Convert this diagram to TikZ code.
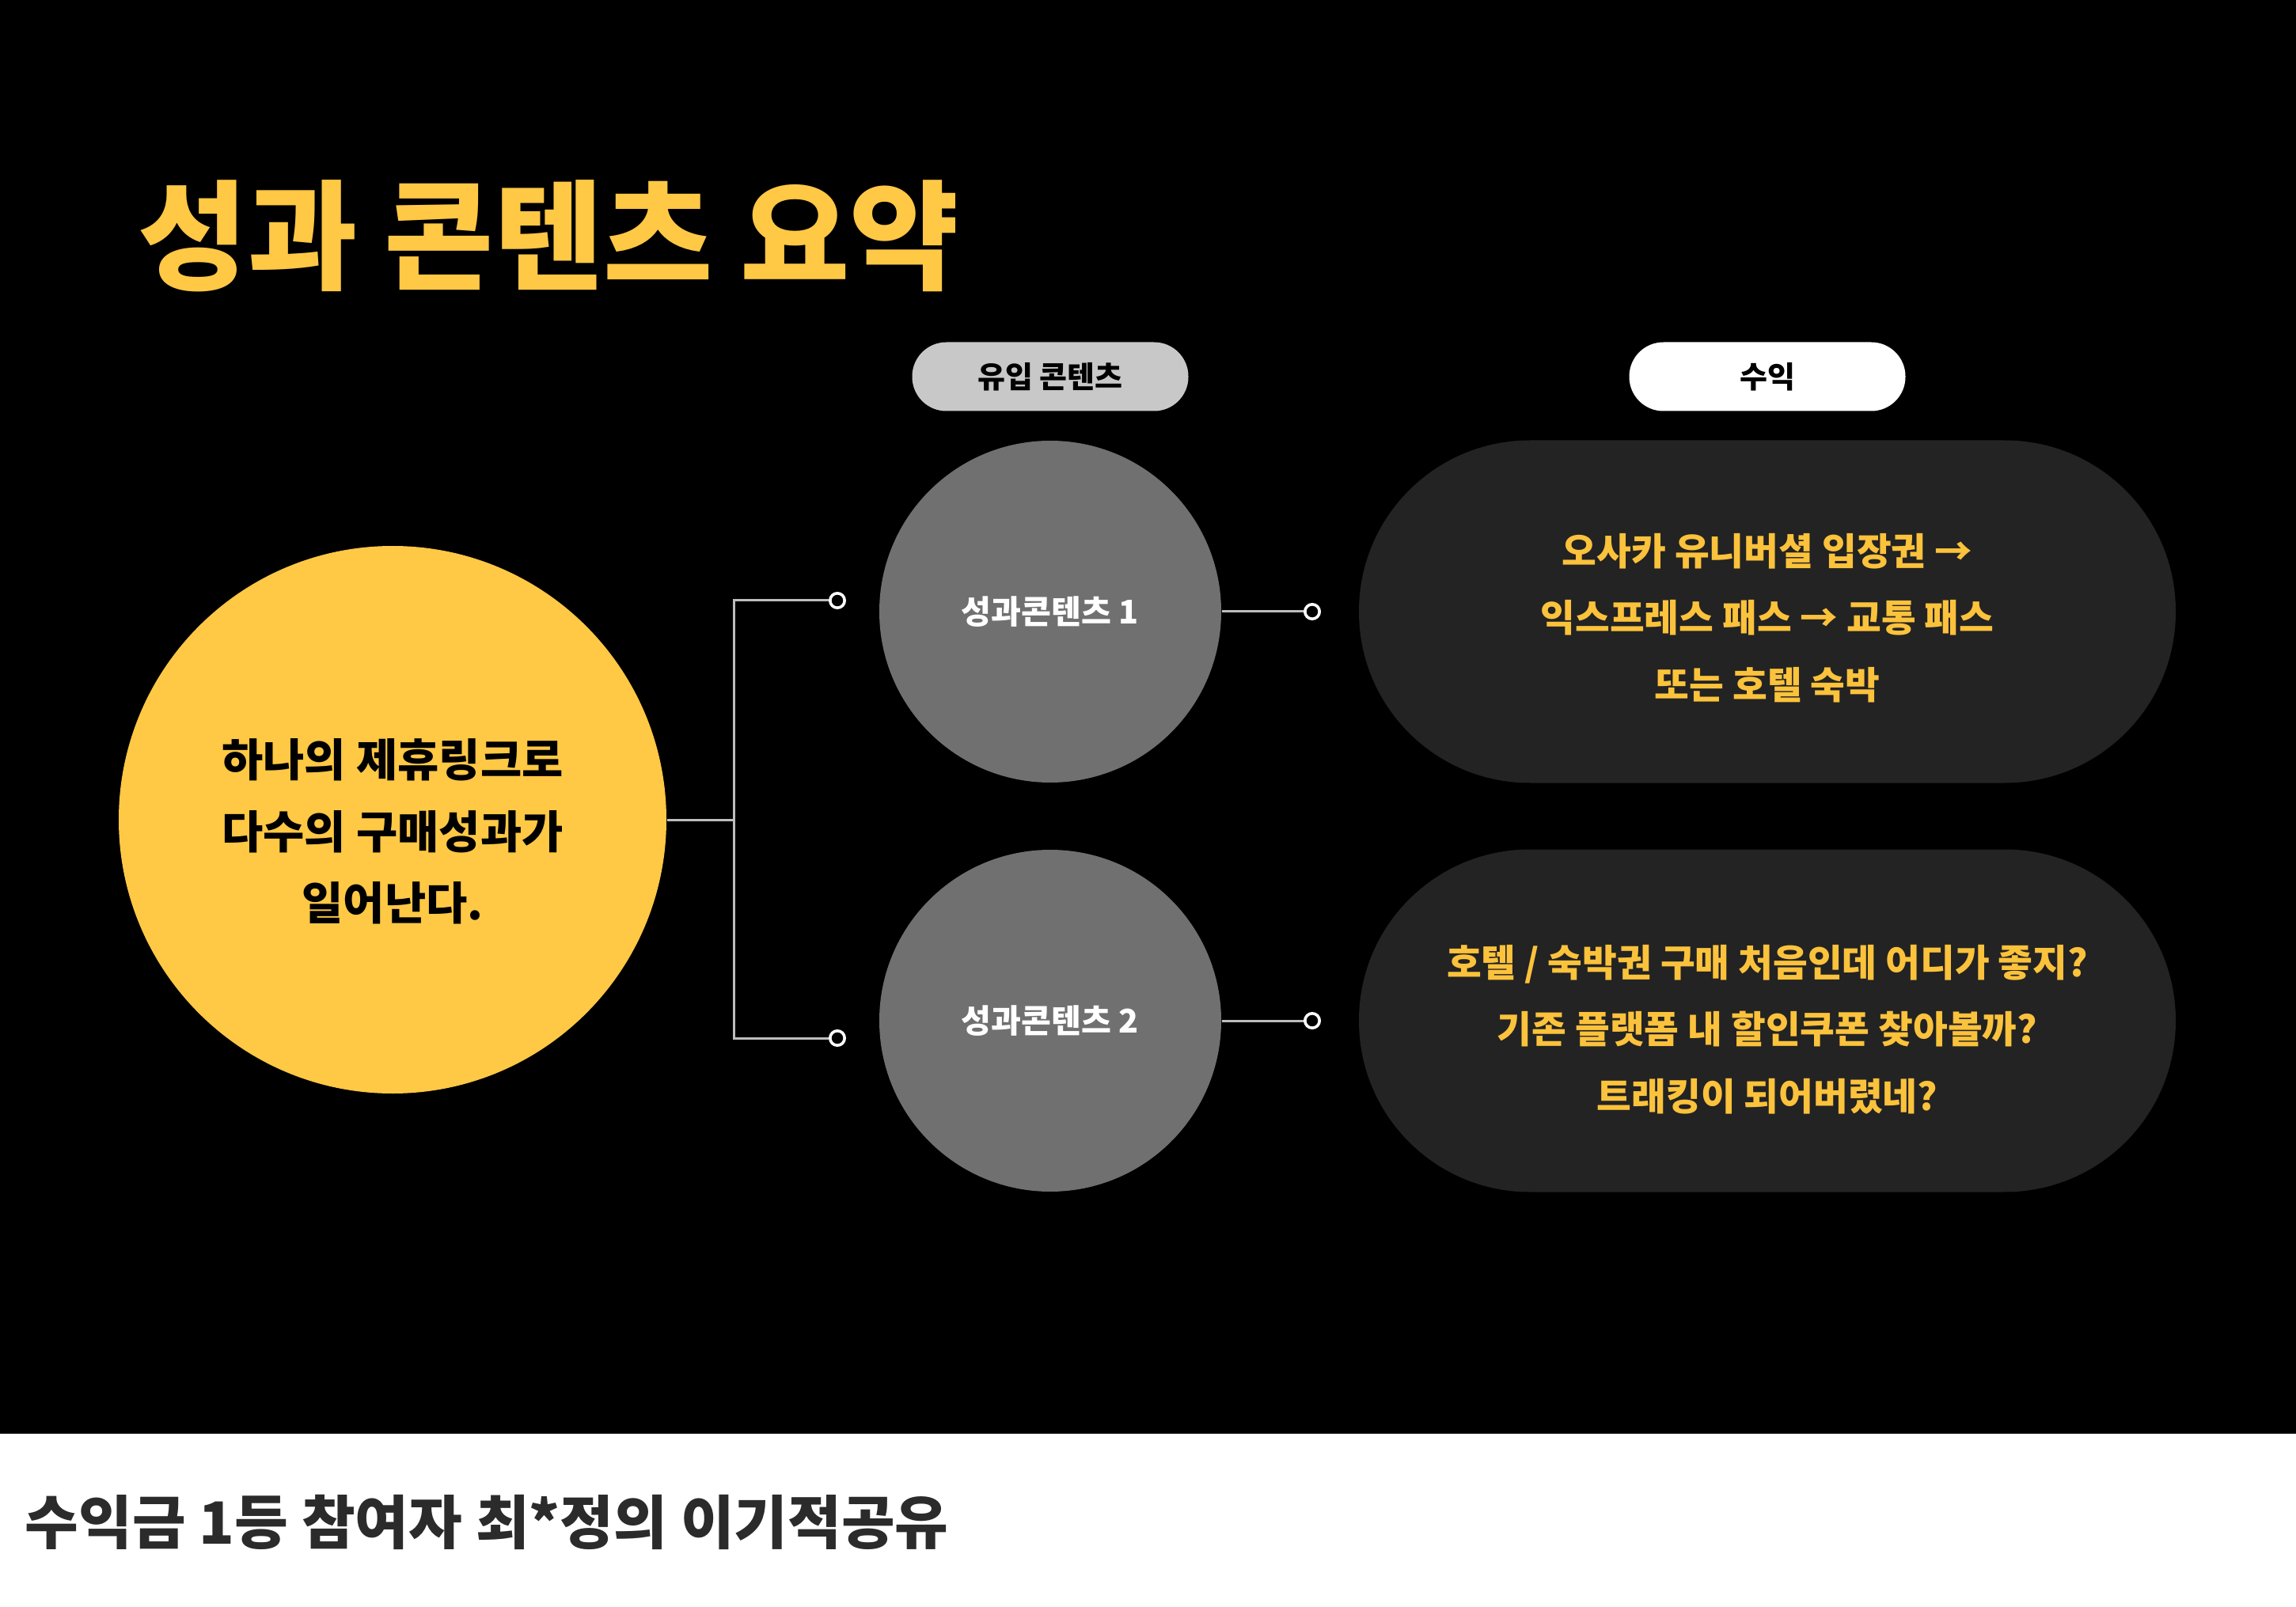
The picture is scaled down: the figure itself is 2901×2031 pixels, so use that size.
\documentclass[tikz,border=0pt]{standalone}
\usepackage{fontspec}
\setmainfont{Noto Sans CJK KR}
\usetikzlibrary{positioning}

\definecolor{hubyellow}{HTML}{FFC845}
\definecolor{textyellow}{HTML}{FBC23C}
\definecolor{stepgray}{HTML}{707070}
\definecolor{pilldark}{HTML}{232323}
\definecolor{taggray}{HTML}{C8C8C8}
\definecolor{wiregray}{HTML}{BDBDBD}
\definecolor{captiongray}{HTML}{2B2B2B}

\begin{document}
\begin{tikzpicture}[x=0.25pt, y=-0.25pt, font=\bfseries,
  hubnode/.style={circle, fill=hubyellow, minimum size=173pt, inner sep=0pt},
  hubtext/.style={align=center, inner sep=0pt, font=\bfseries\fontsize{14.2}{22.7}\selectfont},
  stepnode/.style={circle, fill=stepgray, minimum size=108pt, inner sep=0pt, text=white,
    font=\bfseries\fontsize{10.3}{12}\selectfont},
  gainbox/.style={rectangle, rounded corners=54pt, fill=pilldark, minimum width=258pt,
    minimum height=108.25pt},
  gaintext/.style={align=center, inner sep=0pt, text=textyellow,
    font=\bfseries\fontsize{11.9}{21.2}\selectfont},
  tagbox/.style={rectangle, rounded corners=10.8pt, minimum width=87.25pt, minimum height=21.75pt,
    inner sep=0pt, font=\bfseries\fontsize{9.5}{10}\selectfont},
  port/.style={circle, draw=white, fill=black, line width=0.9pt, minimum size=4.6pt, inner sep=0pt},
  wire/.style={draw=wiregray, line width=0.75pt}]
  \useasboundingbox (0,0) rectangle (2901,2031);
  \fill[black] (0,0) rectangle (2901,1812);
  \fill[white] (0,1812) rectangle (2901,2031);

  % title and caption
  \node[anchor=west, inner sep=0pt, text=hubyellow, font=\bfseries\fontsize{37.6}{40}\selectfont] (title) at (174,298) {성과 콘텐츠 요약};
  \node[anchor=west, inner sep=0pt, text=captiongray, font=\bfseries\fontsize{18.4}{20}\selectfont] (caption) at (31,1924) {수익금 1등 참여자 최*정의 이기적공유};

  % column tags
  \node[tagbox, fill=taggray] (intag) at (1327,476) {유입 콘텐츠};
  \node[tagbox, fill=white] (gaintag) at (2233,476) {수익};

  % nodes
  \node[hubnode] (hub) at (496,1036) {};
  \node[hubtext] (hubtext) at ([yshift=-3.7pt]hub.center) {하나의 제휴링크로\\다수의 구매성과가\\일어난다.};
  \node[stepnode] (step1) at (1327,773) {성과콘텐츠 1};
  \node[stepnode] (step2) at (1327,1290) {성과콘텐츠 2};
  \node[gainbox] (gain1) at (2233,773) {};
  \node[gaintext] (gain1text) at ([yshift=-2pt]gain1.center) {오사카 유니버셜 입장권 →\\익스프레스 패스 → 교통 패스\\또는 호텔 숙박};
  \node[gainbox] (gain2) at (2233,1290) {};
  \node[gaintext] (gain2text) at ([yshift=-2.8pt]gain2.center) {호텔 / 숙박권 구매 처음인데 어디가 좋지?\\기존 플랫폼 내 할인쿠폰 찾아볼까?\\트래킹이 되어버렸네?};

  % connectors
  \coordinate (split) at (927,1036);
  \node[port] (in1) at (1058,759) {};
  \node[port] (in2) at (1058,1312) {};
  \node[port] (out1) at (1658,773) {};
  \node[port] (out2) at (1658,1290) {};
  \draw[wire] (hub.east) -- (split);
  \draw[wire] (split) |- (in1.west);
  \draw[wire] (split) |- (in2.west);
  \draw[wire] (step1.east) -- (out1.west);
  \draw[wire] (step2.east) -- (out2.west);
\end{tikzpicture}
\end{document}
